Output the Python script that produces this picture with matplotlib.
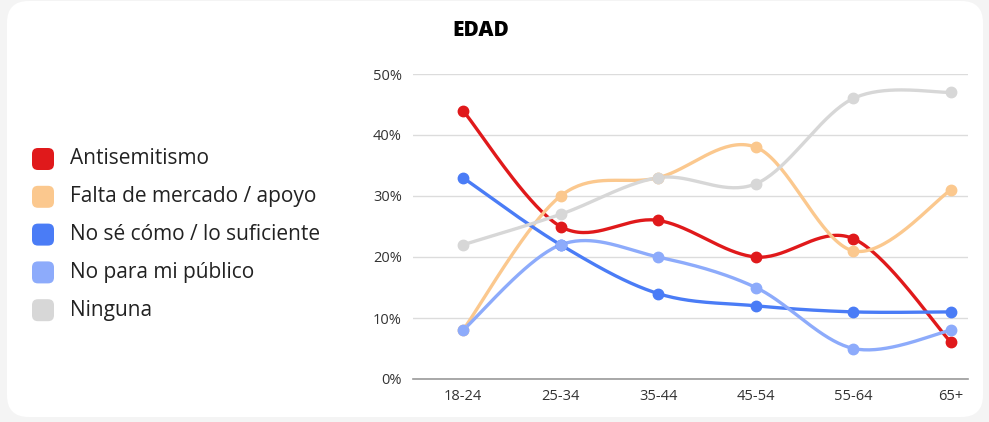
import numpy as np
import matplotlib
matplotlib.use('Agg')
import matplotlib.pyplot as plt
from matplotlib.patches import FancyBboxPatch

plt.rcParams['font.family'] = ['Open Sans', 'DejaVu Sans']

ages = ['18-24', '25-34', '35-44', '45-54', '55-64', '65+']
labels = ['Antisemitismo', 'Falta de mercado / apoyo', 'No sé cómo / lo suficiente',
          'No para mi público', 'Ninguna']
antisemitismo = [44, 25, 26, 20, 23, 6]
falta_mercado = [8, 30, 33, 38, 21, 31]
no_se_como = [33, 22, 14, 12, 11, 11]
no_para_publico = [8, 22, 20, 15, 5, 8]
ninguna = [22, 27, 33, 32, 46, 47]
yticks = [0, 10, 20, 30, 40, 50]

colors = ['#e0191b', '#fbc88e', '#4a7cf6', '#8dabfb', '#d7d7d7']
series = [antisemitismo, falta_mercado, no_se_como, no_para_publico, ninguna]


def smooth(x, y, n=40, k=0.5):
    # catmull-rom style curve through the points
    x = np.asarray(x, float)
    y = np.asarray(y, float)
    pts = np.column_stack([x, y])
    ext = np.vstack([pts[0], pts, pts[-1]])
    out = []
    for i in range(len(pts) - 1):
        p0, p1, p2, p3 = ext[i], ext[i + 1], ext[i + 2], ext[i + 3]
        c1 = p1 + (p2 - p0) * k / 3
        c2 = p2 - (p3 - p1) * k / 3
        t = np.linspace(0, 1, n)[:, None]
        seg = ((1 - t) ** 3) * p1 + 3 * ((1 - t) ** 2) * t * c1 + 3 * (1 - t) * t ** 2 * c2 + t ** 3 * p2
        out.append(seg)
    out = np.vstack(out)
    return out[:, 0], out[:, 1]


fig = plt.figure(figsize=(9.89, 4.22), dpi=100)
fig.patch.set_facecolor('#f4f4f4')
bg = FancyBboxPatch((7 / 989, 5 / 422), 976 / 989, 416 / 422,
                    boxstyle='round,pad=0,rounding_size=0.022',
                    transform=fig.transFigure, facecolor='white', edgecolor='none',
                    mutation_aspect=989 / 422, zorder=-10)
fig.patches.append(bg)

ax = fig.add_axes([413 / 989, 1 - 379 / 422, 555 / 989, 305 / 422])
ax.set_facecolor('none')
xs = np.arange(len(ages))
for vals, col, lab in zip(series, colors, labels):
    sx, sy = smooth(xs, vals)
    ax.plot(sx, sy, color=col, lw=2.4, solid_capstyle='round', zorder=3)
    ax.plot(xs, vals, 'o', color=col, ms=7.5, zorder=4, label=lab)

ax.set_xlim(-0.512, 5.174)
ax.set_ylim(0, 50)
ax.set_yticks(yticks)
ax.set_yticklabels([f'{v}%' for v in yticks])
ax.set_xticks(xs)
ax.set_xticklabels(ages)
ax.tick_params(length=0, labelsize=10.5, colors='#333333')
ax.tick_params(axis='y', pad=8)
ax.tick_params(axis='x', pad=7)
ax.grid(axis='y', color='#dcdcdc', lw=1)
ax.set_axisbelow(True)
for s in ['top', 'right', 'left']:
    ax.spines[s].set_visible(False)
ax.spines['bottom'].set_color('#9a9a9a')
ax.spines['bottom'].set_linewidth(1.2)

fig.text(481 / 989, 1 - 30 / 422, 'EDAD', ha='center', va='center',
         fontsize=15, fontweight='heavy', color='black')

# legend
for i, (col, lab) in enumerate(zip(colors, labels)):
    yc = 1 - (159 + 37.8 * i) / 422
    sq = FancyBboxPatch((32 / 989, yc - 11 / 422), 22 / 989, 22 / 422,
                        boxstyle='round,pad=0,rounding_size=0.006',
                        mutation_aspect=989 / 422,
                        transform=fig.transFigure, facecolor=col, edgecolor='none')
    fig.patches.append(sq)
    fig.text(70 / 989, yc, lab, ha='left', va='center', fontsize=15, color='#222222')

fig.savefig('out.png', dpi=100, facecolor=fig.get_facecolor())
